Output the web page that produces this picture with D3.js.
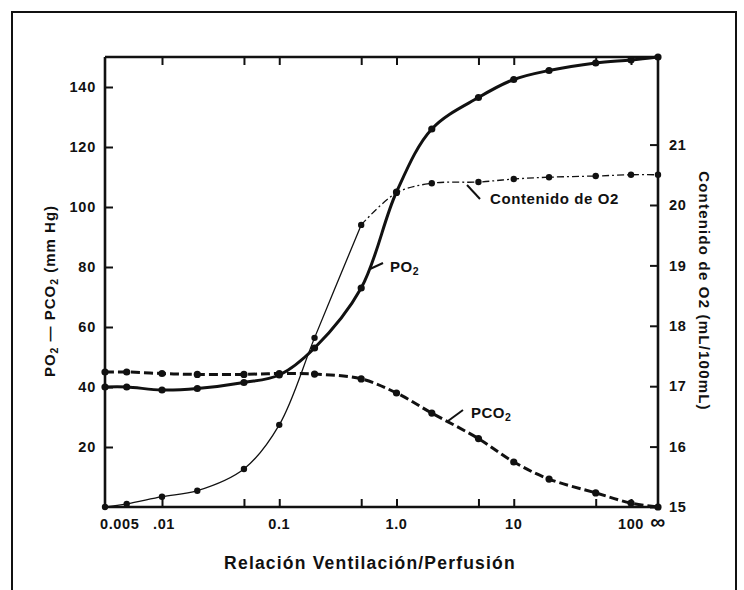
<!DOCTYPE html>
<html>
<head>
<meta charset="utf-8">
<script src="https://cdn.jsdelivr.net/npm/d3@7"></script>
<style>
  body { margin: 0; background: #fff; }
  svg { display: block; }
  text { font-family: "Liberation Sans", Arial, Helvetica, sans-serif; font-weight: bold; fill: #111; }
</style>
</head>
<body>
<svg id="chart" width="744" height="590"></svg>
<script>
// Ventilation/perfusion ratio at each computed point (0 = shunt, Infinity = dead space)
const ratios = [0, 0.005, 0.01, 0.02, 0.05, 0.1, 0.2, 0.5, 1, 2, 5, 10, 20, 50, 100, Infinity];
// Alveolar PO2 and PCO2 (mm Hg)
const po2  = [40, 40, 39, 39.5, 41.5, 44, 53, 73, 105, 126, 136.5, 142.5, 145.5, 148, 149, 150];
const pco2 = [45, 45, 44.5, 44.2, 44.2, 44.5, 44.3, 42.7, 38, 31.3, 22.8, 15, 9.3, 4.7, 1.3, 0];
// End-capillary O2 content (mL/100mL)
const o2Content = [15, 15.05, 15.17, 15.27, 15.63, 16.36, 17.8, 19.67, 20.2, 20.36, 20.38, 20.43, 20.46, 20.48, 20.5, 20.5];

// Axis ticks and labels
const xTickValues = [0.01, 0.05, 0.1, 0.5, 1, 5, 10, 50, 100];
const xLabelValues = [0.005, 0.01, 0.1, 1, 10, 100, Infinity];
const xLabelTexts = ["0.005", ".01", "0.1", "1.0", "10", "100", "\u221E"];
const leftTicks = [20, 40, 60, 80, 100, 120, 140];
const rightTicks = [15, 16, 17, 18, 19, 20, 21];

const svg = d3.select("#chart");
const plot = { left: 105, right: 658, top: 57, bottom: 507 };

// Finite ratios on a log scale; 0 and Infinity sit on the left and right axes
const xLog = d3.scaleLog().domain([0.01, 100]).range([162, 631]);
const xPos = v => v === 0 ? plot.left : (v === Infinity ? plot.right : xLog(v));
const yLeft = d3.scaleLinear().domain([0, 150]).range([plot.bottom, plot.top]);
const yRight = d3.scaleLinear().domain([15, 22.45]).range([plot.bottom, plot.top]);

// Outer frame
svg.append("path").attr("d", "M12,590 L12,12 L736,12 L736,590")
  .attr("fill", "none").attr("stroke", "#111").attr("stroke-width", 2);

// Plot box
const box = svg.append("g").attr("stroke", "#111").attr("stroke-width", 2.6).attr("fill", "none");
box.append("line").attr("x1", plot.left).attr("x2", plot.left).attr("y1", plot.top).attr("y2", plot.bottom);
box.append("line").attr("x1", plot.right).attr("x2", plot.right).attr("y1", plot.top).attr("y2", plot.bottom);
box.append("line").attr("x1", plot.left).attr("x2", plot.right).attr("y1", plot.top).attr("y2", plot.top);
box.append("line").attr("x1", plot.left).attr("x2", plot.right).attr("y1", plot.bottom).attr("y2", plot.bottom);

function styleAxis(g) {
  g.select(".domain").remove();
  g.selectAll(".tick line").attr("stroke", "#111").attr("stroke-width", 2);
  g.selectAll(".tick text").style("font-size", "14.5px").style("letter-spacing", "0.8px").attr("fill", "#111");
}

// Left axis (PO2 - PCO2)
svg.append("g").attr("transform", `translate(${plot.left},0)`)
  .call(d3.axisLeft(yLeft).tickValues(leftTicks).tickSize(-8).tickSizeOuter(0).tickPadding(9))
  .call(styleAxis);

// Right axis (O2 content)
svg.append("g").attr("transform", `translate(${plot.right},0)`)
  .call(d3.axisRight(yRight).tickValues(rightTicks).tickSize(-8).tickSizeOuter(0).tickPadding(11))
  .call(styleAxis);

// Bottom and top tick marks
svg.append("g").attr("transform", `translate(0,${plot.bottom})`)
  .call(d3.axisBottom(xLog).tickValues(xTickValues).tickSize(-8).tickSizeOuter(0).tickFormat(""))
  .call(styleAxis);
svg.append("g").attr("transform", `translate(0,${plot.top})`)
  .call(d3.axisTop(xLog).tickValues(xTickValues).tickSize(-8).tickSizeOuter(0).tickFormat(""))
  .call(styleAxis);

// Bottom labels, including the shunt and dead-space ends
svg.append("g").selectAll("text")
  .data(xLabelValues)
  .join("text")
  .attr("x", (d, i) => xPos(d) + (i === 0 ? -7 : (i === 1 ? 2 : 0)))
  .attr("y", plot.bottom + 22)
  .attr("text-anchor", "middle")
  .style("font-size", (d, i) => i === 6 ? "21px" : "14.5px")
  .style("letter-spacing", "0.6px")
  .text((d, i) => xLabelTexts[i]);

// Curves
const pts = vals => ratios.map((r, i) => [xPos(r), vals[i]]);
const line = y => d3.line().x(d => d[0]).y(d => y(d[1])).curve(d3.curveCatmullRom.alpha(0.5));

const po2Pts = pts(po2);
const pco2Pts = pts(pco2);
const o2Pts = pts(o2Content);
const split = ratios.indexOf(0.5);

svg.append("path").attr("d", line(yRight)(o2Pts.slice(0, split + 1)))
  .attr("fill", "none").attr("stroke", "#111").attr("stroke-width", 1.3);
svg.append("path").attr("d", line(yRight)(o2Pts.slice(split)))
  .attr("fill", "none").attr("stroke", "#111").attr("stroke-width", 1.3)
  .attr("stroke-dasharray", "7,3,2,3");

svg.append("path").attr("d", line(yLeft)(pco2Pts))
  .attr("fill", "none").attr("stroke", "#111").attr("stroke-width", 3)
  .attr("stroke-dasharray", "9,4");
svg.append("path").attr("d", line(yLeft)(po2Pts))
  .attr("fill", "none").attr("stroke", "#111").attr("stroke-width", 3);

// Markers
svg.append("g").selectAll("circle").data(o2Pts).join("circle")
  .attr("cx", d => d[0]).attr("cy", d => yRight(d[1])).attr("r", 3.2).attr("fill", "#111");
svg.append("g").selectAll("circle").data(pco2Pts).join("circle")
  .attr("cx", d => d[0]).attr("cy", d => yLeft(d[1])).attr("r", 3.6).attr("fill", "#111");
svg.append("g").selectAll("circle").data(po2Pts).join("circle")
  .attr("cx", d => d[0]).attr("cy", d => yLeft(d[1])).attr("r", 3.6).attr("fill", "#111");

// Curve labels with leader lines
function sub(textSel, main, subscript) {
  textSel.append("tspan").text(main);
  textSel.append("tspan").attr("dy", 3).style("font-size", "10.5px").text(subscript);
}
const ann = svg.append("g");
ann.append("line").attr("x1", 370).attr("y1", 269).attr("x2", 383).attr("y2", 263)
  .attr("stroke", "#111").attr("stroke-width", 2);
ann.append("text").attr("x", 390).attr("y", 272).style("font-size", "15px").style("letter-spacing", "0.5px")
  .call(sub, "PO", "2");

ann.append("line").attr("x1", 467).attr("y1", 185).attr("x2", 480).attr("y2", 199)
  .attr("stroke", "#111").attr("stroke-width", 2);
ann.append("text").attr("x", 490).attr("y", 204).style("font-size", "15px").style("letter-spacing", "0.6px")
  .text("Contenido de O2");

ann.append("line").attr("x1", 448).attr("y1", 421).attr("x2", 463).attr("y2", 410)
  .attr("stroke", "#111").attr("stroke-width", 2);
ann.append("text").attr("x", 471).attr("y", 418).style("font-size", "15px").style("letter-spacing", "0.5px")
  .call(sub, "PCO", "2");

// Axis titles
const leftTitle = svg.append("text")
  .attr("transform", `translate(55,291) rotate(-90)`)
  .attr("text-anchor", "middle").style("font-size", "15px").style("letter-spacing", "1px");
leftTitle.append("tspan").text("PO");
leftTitle.append("tspan").attr("dy", 3).style("font-size", "10.5px").text("2");
leftTitle.append("tspan").attr("dy", -3).text("  \u2014  PCO");
leftTitle.append("tspan").attr("dy", 3).style("font-size", "10.5px").text("2");
leftTitle.append("tspan").attr("dy", -3).text(" (mm Hg)");

svg.append("text")
  .attr("transform", `translate(699,291) rotate(90)`)
  .attr("text-anchor", "middle").style("font-size", "15px").style("letter-spacing", "1.2px")
  .text("Contenido de O2 (mL/100mL)");

svg.append("text")
  .attr("x", 370).attr("y", 569)
  .attr("text-anchor", "middle").style("font-size", "17.5px").style("letter-spacing", "1.2px")
  .text("Relación Ventilación/Perfusión");
</script>
</body>
</html>
